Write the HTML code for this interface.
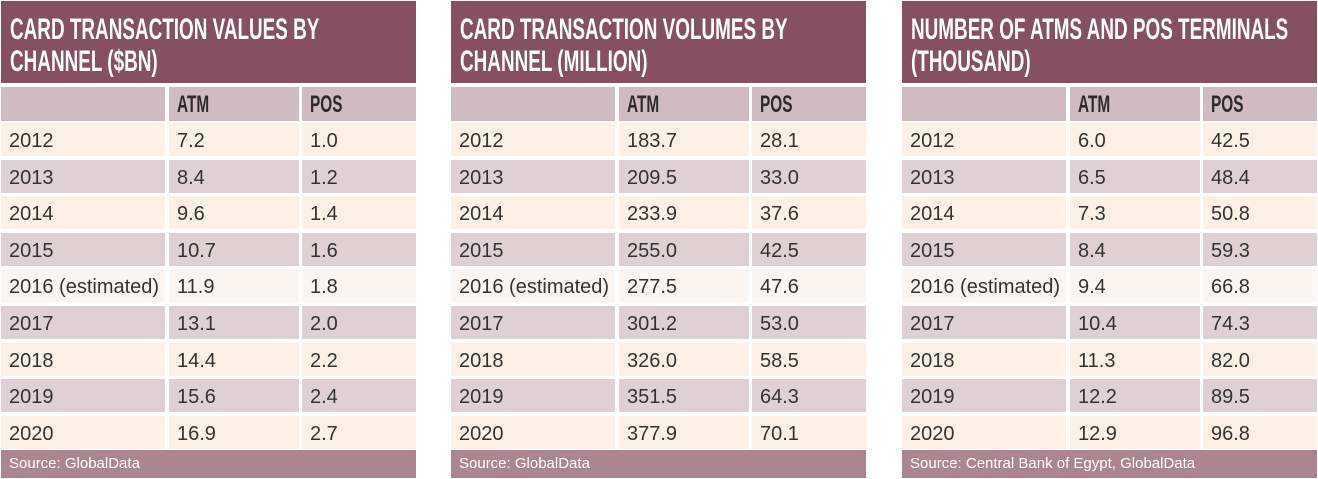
<!DOCTYPE html>
<html><head><meta charset="utf-8"><style>
body{margin:0;width:1318px;height:479px;background:#fff;position:relative;overflow:hidden;font-family:"Liberation Sans",sans-serif;}
.t{position:absolute;top:0;width:415px;height:479px;overflow:hidden;}
.h{position:absolute;left:0;top:1px;width:415px;height:82px;background:#85505f;}
.h span{position:absolute;left:9px;top:13px;color:#fff;font-family:"Liberation Sans",sans-serif;font-weight:bold;font-size:30px;line-height:32px;white-space:nowrap;transform:scaleX(0.63);transform-origin:left top;}
.c{position:absolute;height:33px;line-height:36px;font-size:20px;color:#333;padding-left:8px;box-sizing:border-box;white-space:nowrap;}
.hd{background:#d0bcc0;font-weight:bold;font-size:24px;color:#2e2a2b;height:34px;line-height:36px;}
.hd span{display:inline-block;transform:scaleX(0.64);transform-origin:left center;}
.o{background:#fcf0e7}.e{background:#dfd0d4}.l{background:#fdf6f0}
.s{position:absolute;left:0;top:450px;width:415px;height:28px;background:#ab858f;color:#fff;font-size:15px;line-height:28px;padding-left:8px;box-sizing:border-box;}
</style></head><body>
<div id="root"></div>
<script>
const tables=[
{x:1,t:"CARD TRANSACTION VALUES BY<br>CHANNEL ($BN)",src:"Source: GlobalData",d:[["7.2","1.0"],["8.4","1.2"],["9.6","1.4"],["10.7","1.6"],["11.9","1.8"],["13.1","2.0"],["14.4","2.2"],["15.6","2.4"],["16.9","2.7"]]},
{x:451,t:"CARD TRANSACTION VOLUMES BY<br>CHANNEL (MILLION)",src:"Source: GlobalData",d:[["183.7","28.1"],["209.5","33.0"],["233.9","37.6"],["255.0","42.5"],["277.5","47.6"],["301.2","53.0"],["326.0","58.5"],["351.5","64.3"],["377.9","70.1"]]},
{x:902,t:"NUMBER OF ATMS AND POS TERMINALS<br>(THOUSAND)",src:"Source: Central Bank of Egypt, GlobalData",d:[["6.0","42.5"],["6.5","48.4"],["7.3","50.8"],["8.4","59.3"],["9.4","66.8"],["10.4","74.3"],["11.3","82.0"],["12.2","89.5"],["12.9","96.8"]]}];
const yrs=["2012","2013","2014","2015","2016 (estimated)","2017","2018","2019","2020"];
let h="";
for(const T of tables){
 h+=`<div class="t" style="left:${T.x}px"><div class="h"><span>${T.t}</span></div>`;
 const cols=[[0,164],[168,130],[301,114]];
 const row=(top,cls,vals)=>vals.map((v,i)=>`<div class="c ${cls}" style="left:${cols[i][0]}px;width:${cols[i][1]}px;top:${top}px">${cls=="hd"?"<span>"+v+"</span>":v}</div>`).join("");
 h+=row(87,"hd",["","ATM","POS"]);
 T.d.forEach((r,i)=>{const cls=i==4?"l":(i%2==0?"o":"e");h+=row(Math.round(123+i*36.6),cls,[yrs[i],r[0],r[1]]);});
 h+=`<div class="s">${T.src}</div></div>`;
}
document.getElementById("root").innerHTML=h;
</script>
</body></html>
